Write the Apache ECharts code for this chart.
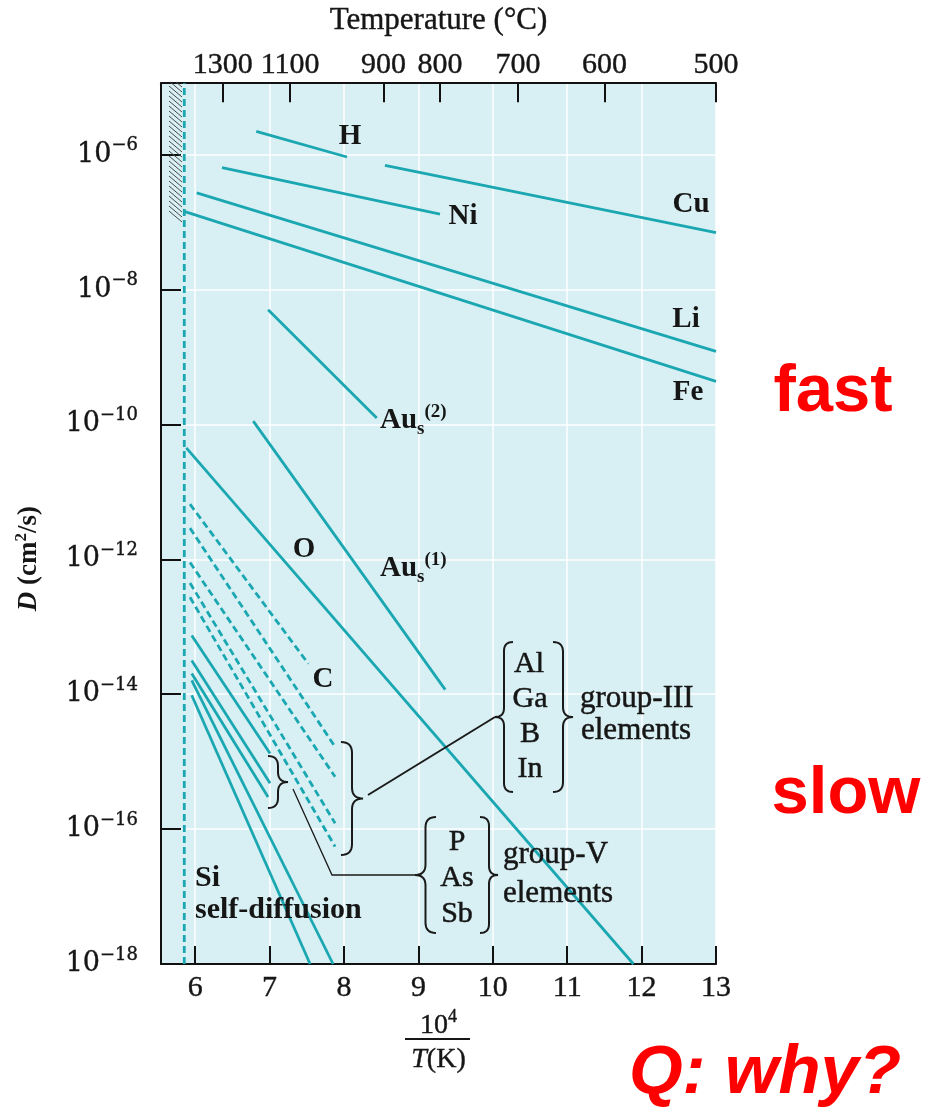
<!DOCTYPE html>
<html><head><meta charset="utf-8">
<script src="https://cdn.jsdelivr.net/npm/echarts@6/dist/echarts.min.js"></script>
<style>html,body{margin:0;padding:0;background:#fff}#c{width:944px;height:1109px}</style>
</head><body><div id="c"></div>
<script>
// x = 10^4 / T(K);  y = log10 of D (cm^2/s)
const xTicks = [6, 7, 8, 9, 10, 11, 12, 13];
const yTicks = [-18, -16, -14, -12, -10, -8, -6];
const tempLabels = ['1300', '1100', '900', '800', '700', '600', '500'];
const tempPositions = [6.37, 7.275, 8.53, 9.29, 10.34, 11.50, 13.0];
const siMeltX = 5.853;

// fast diffusers
const H   = [[6.82, -5.654], [8.04, -6.034]];
const Cu  = [[8.55, -6.157], [13.0, -7.157]];
const Ni  = [[6.36, -6.192], [9.29, -6.881]];
const Li  = [[6.02, -6.566], [13.0, -8.917]];
const Fe  = [[5.84, -6.837], [13.0, -9.36]];
const Au2 = [[6.98, -8.300], [8.44, -9.903]];
const Au1 = [[6.78, -9.951], [9.36, -13.932]];
const O   = [[5.88, -10.346], [11.89, -18.0]];
// dashed: C and group-III (Al, Ga, B, In)
const C   = [[5.93, -11.182], [7.52, -13.548]];
const G3a = [[5.93, -11.537], [7.88, -14.781]];
const G3b = [[5.93, -12.046], [7.88, -15.224]];
const G3c = [[5.93, -12.350], [7.88, -15.913]];
const G3d = [[5.93, -12.563], [7.88, -16.259]];
// solid: group-V (P, As, Sb) and Si self-diffusion
const P   = [[5.953, -13.129], [7.006, -14.878]];
const As  = [[5.953, -13.499], [7.006, -15.321]];
const Sb  = [[5.953, -13.691], [6.979, -15.524]];
const Si1 = [[5.953, -13.794], [7.853, -18.0]];
const Si2 = [[5.953, -14.016], [7.544, -18.0]];

const LINE = '#1ba7b1';
const INK = '#161616';
const SERIF = '"Liberation Serif","Times New Roman",serif';
const WSERIF = '"DejaVu Serif","Liberation Serif",serif';
const HEAVY = { textBorderColor: INK, textBorderWidth: 0.4 };

function lineSeries(name, data, dashed) {
  return {
    name, type: 'line', data, symbol: 'none', silent: true, z: 3,
    lineStyle: { color: LINE, width: 2.8, type: dashed ? [7, 4] : 'solid' }
  };
}

const series = [
  lineSeries('Si melting', [[siMeltX, -18], [siMeltX, -4.94]], true),
  lineSeries('H', H), lineSeries('Cu', Cu), lineSeries('Ni', Ni),
  lineSeries('Li', Li), lineSeries('Fe', Fe),
  lineSeries('Au2', Au2), lineSeries('Au1', Au1), lineSeries('O', O),
  lineSeries('C', C, true), lineSeries('Al', G3a, true), lineSeries('Ga', G3b, true),
  lineSeries('B', G3c, true), lineSeries('In', G3d, true),
  lineSeries('P', P), lineSeries('As', As), lineSeries('Sb', Sb),
  lineSeries('Si self 1', Si1), lineSeries('Si self 2', Si2)
];

// ---------- decorations (pixel space) ----------
function txt(text, x, y, size, opts) {
  opts = opts || {};
  const st = {
    text, fontSize: size, fontFamily: opts.family || SERIF,
    fontWeight: opts.weight || 'normal', fontStyle: opts.style || 'normal',
    fill: opts.fill || INK,
    align: opts.align || 'center', textAlign: opts.align || 'center',
    verticalAlign: 'middle', textVerticalAlign: 'middle'
  };
  if (opts.rich) st.rich = opts.rich;
  if (opts.heavy) { st.stroke = INK; st.lineWidth = 0.5; }
  return { type: 'text', x, y, z: 100, style: st };
}
function quad(p0, c, p1, n, out) {
  for (let i = 1; i <= n; i++) {
    const t = i / n, u = 1 - t;
    out.push([u * u * p0[0] + 2 * u * t * c[0] + t * t * p1[0], u * u * p0[1] + 2 * u * t * c[1] + t * t * p1[1]]);
  }
}
function brace(xt, y0, y1, w) {
  // xt: tip x; w>0 -> "{" (arms to the right), w<0 -> "}" (arms to the left)
  const xa = xt + w, xs = xt + w / 2, ym = (y0 + y1) / 2, r = Math.abs(w) / 2;
  const pts = [[xa, y0]];
  quad([xa, y0], [xs, y0], [xs, y0 + r], 8, pts);
  pts.push([xs, ym - r]);
  quad([xs, ym - r], [xs, ym], [xt, ym], 8, pts);
  quad([xt, ym], [xs, ym], [xs, ym + r], 8, pts);
  pts.push([xs, y1 - r]);
  quad([xs, y1 - r], [xs, y1], [xa, y1], 8, pts);
  return { type: 'polyline', z: 100, shape: { points: pts }, style: { stroke: '#1a1a1a', fill: null, lineWidth: 2 } };
}
const auRich = {
  b: { fontSize: 29, fontWeight: 'bold', fontFamily: SERIF, lineHeight: 36, fill: INK },
  sub: { fontSize: 19, fontWeight: 'bold', fontFamily: SERIF, lineHeight: 16, verticalAlign: 'bottom', fill: INK },
  sup: { fontSize: 19, fontWeight: 'bold', fontFamily: SERIF, lineHeight: 22, verticalAlign: 'top', fill: INK }
};

const graphics = [];
// hatched region left of the melting line
for (let y = 76; y <= 212; y += 5) {
  const ys = Math.max(y, 82);
  graphics.push({ type: 'line', z: 50, shape: { x1: 169 + (ys - y) * 13 / 11, y1: ys, x2: 182, y2: y + 11 },
    style: { stroke: '#4a4a4a', lineWidth: 1 } });
}
const sans = '"Liberation Sans",Arial,sans-serif';
[
  txt('H', 350, 137, 29, { weight: 'bold' }),
  txt('Ni', 463, 217, 29, { weight: 'bold' }),
  txt('Cu', 691, 205, 29, { weight: 'bold' }),
  txt('Li', 686, 320, 29, { weight: 'bold' }),
  txt('Fe', 688, 393, 29, { weight: 'bold' }),
  txt('O', 304, 550, 29, { weight: 'bold' }),
  txt('C', 323, 680, 29, { weight: 'bold' }),
  txt('{b|Au}{sub|s}{sup|(2)}', 380, 421, 29, { align: 'left', rich: auRich }),
  txt('{b|Au}{sub|s}{sup|(1)}', 380, 569, 29, { align: 'left', rich: auRich }),
  txt('Si', 195, 878, 30, { align: 'left', weight: 'bold' }),
  txt('self-diffusion', 195, 910, 30, { align: 'left', weight: 'bold' }),
  txt('Al', 529, 664, 30, { heavy: 1 }), txt('Ga', 530, 699, 30, { heavy: 1 }),
  txt('B', 530, 734, 30, { heavy: 1 }), txt('In', 530, 769, 30, { heavy: 1 }),
  txt('group-III', 580, 699, 31, { align: 'left', heavy: 1 }),
  txt('elements', 581, 731, 31, { align: 'left', heavy: 1 }),
  txt('P', 457, 842, 30, { heavy: 1 }), txt('As', 457, 878, 30, { heavy: 1 }), txt('Sb', 457, 914, 30, { heavy: 1 }),
  txt('group-V', 503, 855, 31, { align: 'left', heavy: 1 }),
  txt('elements', 503, 894, 31, { align: 'left', heavy: 1 }),
  txt('fast', 833, 393, 67, { family: sans, weight: 'bold', fill: '#ff0000' }),
  txt('slow', 846, 795, 67, { family: sans, weight: 'bold', fill: '#ff0000' }),
  txt('Q: why?', 765, 1074, 69, { family: sans, weight: 'bold', style: 'italic', fill: '#ff0000' })
].forEach(g => graphics.push(g));
graphics.push(brace(495, 642, 792, 18), brace(573, 642, 792, -20));
graphics.push(brace(415, 817, 933, 21), brace(498, 817, 933, -18));
graphics.push(brace(363, 742, 855, -22), brace(288, 756, 808, -20));
graphics.push({ type: 'polyline', z: 100, shape: { points: [[368, 795], [495, 717]] }, style: { stroke: '#1a1a1a', lineWidth: 2, fill: null } });
graphics.push({ type: 'polyline', z: 100, shape: { points: [[293, 789], [332, 875], [415, 875]] }, style: { stroke: '#1a1a1a', lineWidth: 1.3, fill: null } });
// fraction bar of the x-axis name
graphics.push({ type: 'line', z: 100, shape: { x1: 405, y1: 1039, x2: 470, y2: 1039 }, style: { stroke: INK, lineWidth: 2 } });

const chart = echarts.init(document.getElementById('c'), null, { renderer: 'canvas' });
chart.setOption({
  animation: false,
  backgroundColor: '#ffffff',
  grid: { left: 161, top: 81, width: 555, height: 883, show: true, backgroundColor: '#d8f0f3', borderWidth: 0 },
  xAxis: [{
    type: 'value', position: 'bottom', min: 5.54, max: 13, interval: 1,
    axisLine: { show: true, onZero: false, lineStyle: { color: '#111', width: 2 } },
    axisTick: { show: true, inside: true, length: 18, customValues: xTicks, lineStyle: { color: '#111', width: 2 } },
    axisLabel: Object.assign({ customValues: xTicks, margin: 9, fontSize: 30, fontFamily: SERIF, color: INK }, HEAVY),
    splitLine: { show: true, lineStyle: { color: 'rgba(255,255,255,0.75)', width: 2 } },
    name: '{n|10}{p|4}\n{t|T}{k|(K)}', nameLocation: 'middle', nameGap: 42,
    nameTextStyle: {
      rich: {
        n: Object.assign({ fontSize: 28, fontFamily: SERIF, lineHeight: 34, color: INK }, HEAVY),
        p: Object.assign({ fontSize: 18, fontFamily: SERIF, lineHeight: 18, verticalAlign: 'top', color: INK }, HEAVY),
        t: Object.assign({ fontSize: 28, fontFamily: SERIF, fontStyle: 'italic', lineHeight: 34, color: INK }, HEAVY),
        k: Object.assign({ fontSize: 28, fontFamily: SERIF, lineHeight: 34, color: INK }, HEAVY)
      }
    }
  }, {
    type: 'value', position: 'top', min: 5.54, max: 13,
    axisLine: { show: true, onZero: false, lineStyle: { color: '#111', width: 2 } },
    axisTick: { show: true, inside: true, length: 19, customValues: tempPositions, lineStyle: { color: '#111', width: 2 } },
    axisLabel: Object.assign({
      customValues: tempPositions, margin: 3, fontSize: 30, fontFamily: SERIF, color: INK,
      formatter: v => { const i = tempPositions.findIndex(p => Math.abs(p - v) < 1e-6); return i >= 0 ? tempLabels[i] : ''; }
    }, HEAVY),
    splitLine: { show: false },
    name: 'Temperature (°C)', nameLocation: 'middle', nameGap: 47,
    nameTextStyle: Object.assign({ fontSize: 31, fontFamily: SERIF, color: INK }, HEAVY)
  }],
  yAxis: {
    type: 'value', min: -18, max: -4.94, interval: 2,
    axisLine: { show: true, onZero: false, lineStyle: { color: '#111', width: 2 } },
    axisTick: { show: true, inside: true, length: 20, customValues: yTicks, lineStyle: { color: '#111', width: 2 } },
    axisLabel: {
      customValues: yTicks, margin: 23,
      formatter: v => '{b|10}{s|−' + Math.abs(v) + '}',
      rich: {
        b: Object.assign({ fontSize: 27, fontFamily: WSERIF, lineHeight: 36, color: INK }, HEAVY),
        s: Object.assign({ fontSize: 18, fontFamily: WSERIF, lineHeight: 16, verticalAlign: 'top', color: INK }, HEAVY)
      }
    },
    splitLine: { show: true, lineStyle: { color: 'rgba(255,255,255,0.75)', width: 2 } },
    name: '{d|D} (cm{s|2}/s)', nameLocation: 'middle', nameGap: 116,
    nameTextStyle: {
      fontSize: 27, fontFamily: SERIF, fontWeight: 'bold', color: INK, padding: [0, 70, 0, 0],
      rich: {
        d: { fontSize: 27, fontFamily: SERIF, fontWeight: 'bold', fontStyle: 'italic', color: INK, lineHeight: 32 },
        s: { fontSize: 17, fontFamily: SERIF, fontWeight: 'bold', color: INK, verticalAlign: 'top', lineHeight: 18 }
      }
    }
  },
  series,
  graphic: { elements: graphics }
});
</script></body></html>
